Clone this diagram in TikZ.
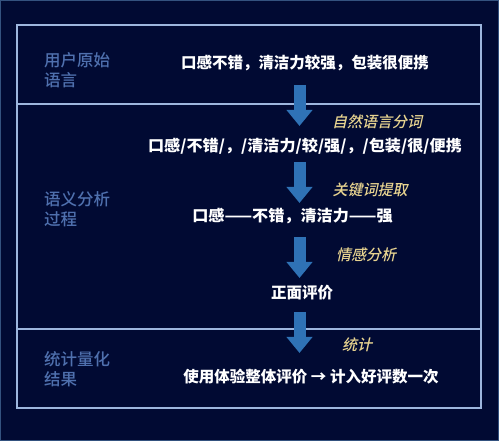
\documentclass[tikz,border=0pt]{standalone}
\usepackage{fontspec}
\usetikzlibrary{arrows.meta}
\newfontfamily\cjk{Noto Sans CJK SC}
\newfontfamily\cjkmed{Noto Sans CJK SC Medium}
\newfontfamily\cjkslant{Noto Sans CJK SC Medium}[FakeSlant=0.22]
\definecolor{bgnavy}{HTML}{010A33}
\definecolor{edgeblue}{HTML}{34527F}
\definecolor{frameblue}{HTML}{9DB6DE}
\definecolor{labelblue}{HTML}{4F70AE}
\definecolor{arrowblue}{HTML}{2F72B6}
\definecolor{stepgold}{HTML}{E8D490}
\tikzset{
  maintext/.style={text=white, font=\cjk\bfseries\fontsize{15.5}{17}\selectfont, inner sep=0pt, anchor=center},
  sidelabel/.style={text=labelblue, font=\cjkmed\fontsize{16.5}{20}\selectfont, inner sep=0pt, anchor=north west, align=left},
  steplabel/.style={text=stepgold, font=\cjkslant\fontsize{15}{16}\selectfont, inner sep=0pt, anchor=center},
  framepart/.style={draw=frameblue, line width=1.3pt},
  bigarrow/.style={draw=arrowblue, line width=12pt, line cap=butt, -{Triangle[width=25pt,length=16pt]}}
}
\begin{document}
\begin{tikzpicture}[x=1pt,y=-1pt]
\useasboundingbox (0,0) rectangle (499,441);
\fill[bgnavy] (0,0) rectangle (499,441);
\draw[edgeblue, line width=1pt] (0.5,0.5) rectangle (498.5,440.5);
% frame
\draw[framepart] (17,25) rectangle (481,408);
\draw[framepart] (17,104) -- (481,104);
\draw[framepart] (17,329) -- (481,329);
% side labels
\node[sidelabel] (lab1) at (44,52) {用户原始\\语言};
\node[sidelabel] (lab2) at (44,191) {语义分析\\过程};
\node[sidelabel] (lab3) at (44,351) {统计量化\\结果};
% main texts
\node[maintext] (t1) at (305,63) {口感不错，清洁力较强，包装很便携};
\node[maintext] (t2) at (305,146) {\scalebox{1.04}[1]{口感/不错/，/清洁力/较/强/，/包装/很/便携}};
\node[maintext] (t3) at (292.5,216) {\scalebox{1.04}[1]{口感——不错，清洁力——强}};
\node[maintext] (t4) at (302,293) {正面评价};
\node[maintext] (t5) at (311,377) {使用体验整体评价 → 计入好评数一次};
% step labels
\node[steplabel] (s1) at (377,122) {自然语言分词};
\node[steplabel] (s2) at (370,190) {关键词提取};
\node[steplabel] (s3) at (366,255) {情感分析};
\node[steplabel] (s4) at (357,345) {统计};
% arrows
\coordinate (a1s) at (299.5,85);  \coordinate (a1e) at (299.5,126);
\coordinate (a2s) at (299.5,162); \coordinate (a2e) at (299.5,203);
\coordinate (a3s) at (299.5,237); \coordinate (a3e) at (299.5,278);
\coordinate (a4s) at (299.5,312); \coordinate (a4e) at (299.5,353);
\draw[bigarrow] (a1s) -- (a1e);
\draw[bigarrow] (a2s) -- (a2e);
\draw[bigarrow] (a3s) -- (a3e);
\draw[bigarrow] (a4s) -- (a4e);
\end{tikzpicture}
\end{document}
